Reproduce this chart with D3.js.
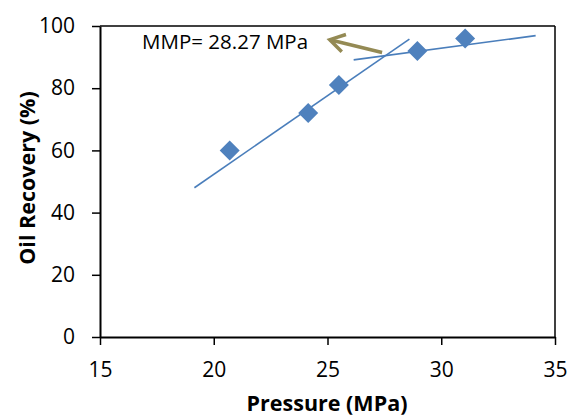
<!DOCTYPE html>
<html><head><meta charset="utf-8">
<script src="https://cdn.jsdelivr.net/npm/d3@7"></script>
<style>body{margin:0;background:#fff;} text{font-family:"Open Sans",sans-serif;}</style>
</head><body>
<svg id="c" width="570" height="417"></svg>
<script>
const pressure = [20.7, 24.15, 25.5, 28.95, 31.05];
const recovery = [60, 72, 81, 92, 96];
const fit1 = [[19.15, 48.0], [28.6, 95.8]];
const fit2 = [[26.15, 89.1], [34.15, 96.9]];
const xTicks = [15, 20, 25, 30, 35];
const yTicks = [0, 20, 40, 60, 80, 100];
const annotation = "MMP= 28.27 MPa";
const arrowFrom = [27.4, 91.5];
const arrowTo = [25.1, 95.6];

const svg = d3.select("#c");
const x = d3.scaleLinear().domain([15, 35]).range([100, 555]);
const y = d3.scaleLinear().domain([0, 100]).range([337, 26]);

// box
svg.append("line").attr("x1", x(15)).attr("x2", x(35)).attr("y1", y(100)).attr("y2", y(100)).attr("stroke", "#000").attr("stroke-width", 1.5);
svg.append("line").attr("x1", x(35)).attr("x2", x(35)).attr("y1", y(100)).attr("y2", y(0)).attr("stroke", "#000").attr("stroke-width", 1.5);

const xa = svg.append("g").attr("transform", `translate(0,${y(0)})`)
  .call(d3.axisBottom(x).tickValues(xTicks).tickSize(8).tickPadding(17).tickSizeOuter(0));
const ya = svg.append("g").attr("transform", `translate(${x(15)},0)`)
  .call(d3.axisLeft(y).tickValues(yTicks).tickSize(8).tickPadding(17).tickSizeOuter(0));
[xa, ya].forEach(a => {
  a.select(".domain").attr("stroke", "#000").attr("stroke-width", 2);
  a.selectAll(".tick line").attr("stroke", "#000").attr("stroke-width", 1.5);
  a.selectAll(".tick text").attr("font-size", 21).attr("font-family", "Open Sans").attr("fill", "#000");
});

const line = d3.line().x(d => x(d[0])).y(d => y(d[1]));
[fit1, fit2].forEach(f => svg.append("path").attr("d", line(f)).attr("fill", "none").attr("stroke", "#4A7EBB").attr("stroke-width", 1.6));

svg.append("g").selectAll("path").data(pressure).join("path")
  .attr("transform", (d, i) => `translate(${x(d)},${y(recovery[i])})`)
  .attr("d", "M0,-10L10,0L0,10L-10,0Z")
  .attr("fill", "#4F81BD");

// annotation
svg.append("text").attr("x", x(16.85)).attr("y", y(92.6)).attr("font-size", 20.5).attr("fill", "#000").text(annotation);
const ax1 = x(arrowFrom[0]), ay1 = y(arrowFrom[1]), ax2 = x(arrowTo[0]), ay2 = y(arrowTo[1]);
const ang = Math.atan2(ay2 - ay1, ax2 - ax1);
const hl = 17, ha = 0.55;
svg.append("line").attr("x1", ax1).attr("y1", ay1).attr("x2", ax2).attr("y2", ay2).attr("stroke", "#948A54").attr("stroke-width", 3.5);
svg.append("path")
  .attr("d", `M${ax2 - hl*Math.cos(ang-ha)},${ay2 - hl*Math.sin(ang-ha)}L${ax2},${ay2}L${ax2 - hl*Math.cos(ang+ha)},${ay2 - hl*Math.sin(ang+ha)}`)
  .attr("fill", "none").attr("stroke", "#948A54").attr("stroke-width", 3.5);

svg.append("text").attr("x", 327).attr("y", 411).attr("text-anchor", "middle").attr("font-size", 21.5).attr("font-weight", "bold").attr("fill", "#000").text("Pressure (MPa)");
svg.append("text").attr("transform", "translate(35,178) rotate(-90)").attr("text-anchor", "middle").attr("font-size", 21.5).attr("font-weight", "bold").attr("fill", "#000").text("Oil Recovery (%)");
</script>
</body></html>
